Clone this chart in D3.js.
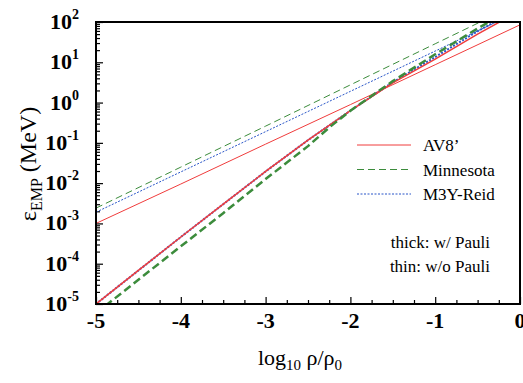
<!DOCTYPE html>
<html>
<head>
<meta charset="utf-8">
<script src="https://cdn.jsdelivr.net/npm/d3@7"></script>
<style>
  body { margin: 0; background: white; }
  svg { display: block; }
  svg text { font-family: "Liberation Serif", "DejaVu Serif", serif; }
</style>
</head>
<body>
<div id="chart"></div>
<script>
// log10(rho/rho0) sample points
const xThin = [-5, -4, -3, -2, -1, 0];
const xThick = [-5, -4.5, -4, -3.5, -3, -2.5, -2.25, -2, -1.5, -1, -0.5, 0];

// thin: w/o Pauli (MeV)
const av8Thin = [1.0e-3, 9.5e-3, 9.3e-2, 0.89, 8.7, 85];
const minnThin = [2.4e-3, 2.5e-2, 0.26, 2.75, 28.8, 300];
const m3yThin = [1.9e-3, 1.9e-2, 0.19, 1.9, 19, 190];

// thick: w/ Pauli (MeV)
const av8Thick = [1.0e-5, 6.8e-5, 4.6e-4, 3.0e-3, 1.95e-2, 0.117, 0.27, 0.63, 3.1, 12.0, 50, 190];
const minnThick = [5.9e-6, 4.0e-5, 2.7e-4, 1.8e-3, 1.26e-2, 8.3e-2, 0.24, 0.63, 3.4, 15.8, 69, 280];
const m3yThick = [1.0e-5, 6.8e-5, 4.6e-4, 3.0e-3, 1.95e-2, 0.117, 0.27, 0.63, 3.2, 13.5, 59, 220];

const xTicks = [-5, -4, -3, -2, -1, 0];
const yExponents = [-5, -4, -3, -2, -1, 0, 1, 2];
const legendNames = ["AV8\u2019", "Minnesota", "M3Y-Reid"];

const width = 523, height = 383;
const margin = { top: 22, right: 3, bottom: 79, left: 96 };
const plotW = width - margin.left - margin.right;
const plotH = height - margin.top - margin.bottom;
const serif = '"Liberation Serif", "DejaVu Serif", serif';

const red = "#f03c3c", green = "#3c8c3c", blue = "#2855c8";

const svg = d3.select("#chart").append("svg")
  .attr("width", width)
  .attr("height", height)
  .attr("font-family", serif);

svg.append("defs").append("clipPath").attr("id", "clip")
  .append("rect").attr("width", plotW).attr("height", plotH);

const g = svg.append("g").attr("transform", `translate(${margin.left},${margin.top})`);

const x = d3.scaleLinear().domain([-5, 0]).range([0, plotW]);
const y = d3.scaleLog().domain([1e-5, 1e2]).range([plotH, 0]);

// ticks (inward)
const xMinor = d3.range(-5, 0.001, 0.25).filter(v => Math.abs(v - Math.round(v)) > 1e-6);
g.append("g")
  .attr("transform", `translate(0,${plotH})`)
  .call(d3.axisBottom(x).tickValues(xMinor).tickSize(-4).tickFormat(""))
  .call(a => a.select(".domain").remove());
g.append("g")
  .attr("transform", `translate(0,${plotH})`)
  .call(d3.axisBottom(x).tickValues(xTicks).tickSize(-7).tickFormat(""))
  .call(a => a.select(".domain").remove());

const yMinor = [];
yExponents.slice(0, -1).forEach(e => { for (let k = 2; k <= 9; k++) yMinor.push(k * Math.pow(10, e)); });
g.append("g")
  .call(d3.axisLeft(y).tickValues(yMinor).tickSize(-4).tickFormat(""))
  .call(a => a.select(".domain").remove());
g.append("g")
  .call(d3.axisLeft(y).tickValues(yExponents.map(e => Math.pow(10, e))).tickSize(-7).tickFormat(""))
  .call(a => a.select(".domain").remove());
g.selectAll(".tick line").attr("stroke", "#000").attr("stroke-width", 1.2);

// tick labels
g.append("g").selectAll("text").data(xTicks).enter().append("text")
  .attr("x", d => x(d))
  .attr("y", plotH + 24)
  .attr("text-anchor", "middle")
  .attr("font-family", serif)
  .attr("font-size", 22)
  .attr("font-weight", "bold")
  .text(d => d);

const yLab = g.append("g").selectAll("text").data(yExponents).enter().append("text")
  .attr("x", -17)
  .attr("y", d => y(Math.pow(10, d)) + 7)
  .attr("text-anchor", "end")
  .attr("font-family", serif)
  .attr("font-size", 22)
  .attr("font-weight", "bold");
yLab.append("tspan").text("10");
yLab.append("tspan").attr("font-size", 14).attr("dy", -10).text(d => d);

// curves
const line = d3.line().x(d => x(d[0])).y(d => y(d[1]));
const curves = [
  { xs: xThin, ys: av8Thin, color: red, w: 1, dash: null },
  { xs: xThin, ys: minnThin, color: green, w: 1, dash: "7,4" },
  { xs: xThin, ys: m3yThin, color: blue, w: 1, dash: "2,1.5" },
  { xs: xThick, ys: m3yThick, color: blue, w: 2, dash: "2,1.5" },
  { xs: xThick, ys: av8Thick, color: red, w: 1.5, dash: null },
  { xs: xThick, ys: minnThick, color: green, w: 2.5, dash: "8,4" }
];
const plot = g.append("g").attr("clip-path", "url(#clip)");
curves.forEach(c => {
  plot.append("path")
    .datum(c.xs.map((v, i) => [v, c.ys[i]]))
    .attr("d", line)
    .attr("fill", "none")
    .attr("stroke", c.color)
    .attr("stroke-width", c.w)
    .attr("stroke-dasharray", c.dash);
});

// frame
g.append("rect")
  .attr("width", plotW).attr("height", plotH)
  .attr("fill", "none").attr("stroke", "#000").attr("stroke-width", 2);

// legend
const legColors = [red, green, blue];
const legDash = [null, "7,4", "2,1.5"];
const leg = g.append("g").attr("transform", `translate(${357 - margin.left},${145 - margin.top})`);
legendNames.forEach((name, i) => {
  leg.append("line")
    .attr("x1", 0).attr("x2", 54)
    .attr("y1", i * 24.5).attr("y2", i * 24.5)
    .attr("stroke", legColors[i])
    .attr("stroke-width", 1)
    .attr("stroke-dasharray", legDash[i]);
  leg.append("text")
    .attr("x", 66).attr("y", i * 24.5 + 6)
    .attr("font-family", serif)
    .attr("font-size", 17)
    .text(name);
});

g.append("text").attr("x", 490 - margin.left).attr("y", 248 - margin.top)
  .attr("text-anchor", "end").attr("font-family", serif).attr("font-size", 17).text("thick: w/ Pauli");
g.append("text").attr("x", 490 - margin.left).attr("y", 272 - margin.top)
  .attr("text-anchor", "end").attr("font-family", serif).attr("font-size", 17).text("thin: w/o Pauli");

// axis titles
const xt = svg.append("text")
  .attr("x", 300).attr("y", 365)
  .attr("text-anchor", "middle")
  .attr("font-family", serif)
  .attr("font-size", 22);
xt.append("tspan").text("log");
xt.append("tspan").attr("font-size", 15).attr("dy", 5).text("10");
xt.append("tspan").attr("dy", -5).text(" \u03c1/\u03c1");
xt.append("tspan").attr("font-size", 15).attr("dy", 5).text("0");

const yt = svg.append("text")
  .attr("transform", "translate(36,164) rotate(-90)")
  .attr("text-anchor", "middle")
  .attr("font-family", serif)
  .attr("font-size", 24);
yt.append("tspan").text("\u03b5");
yt.append("tspan").attr("font-size", 16).attr("dy", 6).text("EMP");
yt.append("tspan").attr("dy", -6).text(" (MeV)");
</script>
</body>
</html>
